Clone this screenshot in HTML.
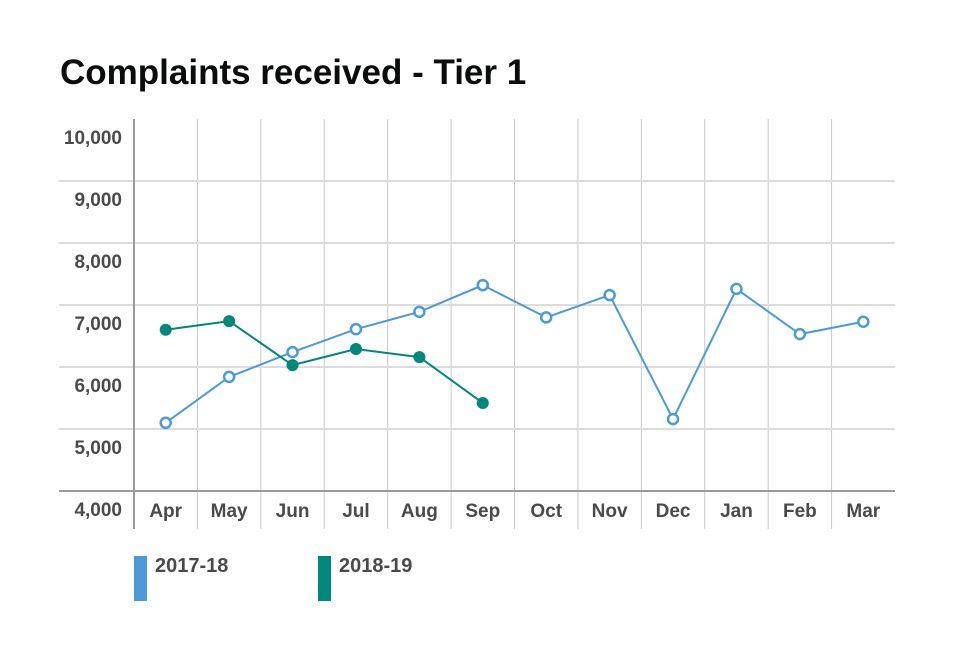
<!DOCTYPE html>
<html><head><meta charset="utf-8"><style>
body{margin:0;background:#fff;font-family:"Liberation Sans",sans-serif}
</style></head><body>
<svg width="960" height="640" id="c" xmlns="http://www.w3.org/2000/svg">
<text x="60" y="84" font-size="35" font-weight="bold" fill="#0b0c0c">Complaints received - Tier 1</text>
</svg>
<script>
const months=["Apr","May","Jun","Jul","Aug","Sep","Oct","Nov","Dec","Jan","Feb","Mar"];
const yTicks=[4000,5000,6000,7000,8000,9000,10000];
const yTickLabels=["4,000","5,000","6,000","7,000","8,000","9,000","10,000"];
const s2017=[5100,5840,6240,6610,6890,7320,6800,7160,5160,7260,6530,6730];
const s2018=[6600,6740,6030,6290,6160,5420];
const svg=document.getElementById('c');const NS="http://www.w3.org/2000/svg";
const x0=134,x1=895,yA=491,yB=119;
const xf=i=>x0+(i+0.5)*(x1-x0)/12;
const yf=v=>yA-(v-4000)/6000*(yA-yB);
function mk(t,a,p){const e=document.createElementNS(NS,t);for(const k in a)e.setAttribute(k,a[k]);(p||svg).appendChild(e);return e;}
for(let i=1;i<12;i++){const e=mk('line',{x1:x0+i*(x1-x0)/12,x2:x0+i*(x1-x0)/12,y1:yB,y2:yA+38,stroke:'#c8c8c8','stroke-width':1});

}
yTicks.forEach((v,i)=>{if(i>0&&v<10000){const g=mk('line',{x1:59,x2:x1,y1:yf(v),y2:yf(v),stroke:'#dcdcdc','stroke-width':2});

}
const t=mk('text',{x:122,y:yf(v)+25,'font-size':19,'font-weight':'bold',fill:'#4a4a4a','text-anchor':'end'});t.textContent=yTickLabels[i];

});
const ax=mk('line',{x1:x0,x2:x0,y1:yB,y2:yA+38,stroke:'#9a9a9a','stroke-width':2});


const bx=mk('line',{x1:59,x2:x1,y1:yA,y2:yA,stroke:'#9a9a9a','stroke-width':2});


months.forEach((m,i)=>{const t=mk('text',{x:xf(i),y:517,'font-size':19,'font-weight':'bold',fill:'#4a4a4a','text-anchor':'middle'});t.textContent=m;

});
function series(d,col,hollow,name){
const l=mk('polyline',{points:d.map((v,i)=>xf(i)+','+yf(v)).join(' '),fill:'none',stroke:col,'stroke-width':2});


d.forEach((v,i)=>{const c=mk('circle',{cx:xf(i),cy:yf(v),r:hollow?5:6,fill:hollow?'#fff':col,stroke:col,'stroke-width':hollow?2.5:0});

});}
series(s2017,'#4c9ad9',true,'series-2017-18');
series(s2018,'#00887a',false,'series-2018-19');
[[134,'#4c9ad9','2017-18'],[318,'#00887a','2018-19']].forEach(([x,c,t])=>{
const r=mk('rect',{x:x,y:556,width:13,height:45,fill:c});


const tx=mk('text',{x:x+21,y:572,'font-size':20,'font-weight':'bold',fill:'#4a4a4a'});tx.textContent=t;

});
</script>
</body></html>
